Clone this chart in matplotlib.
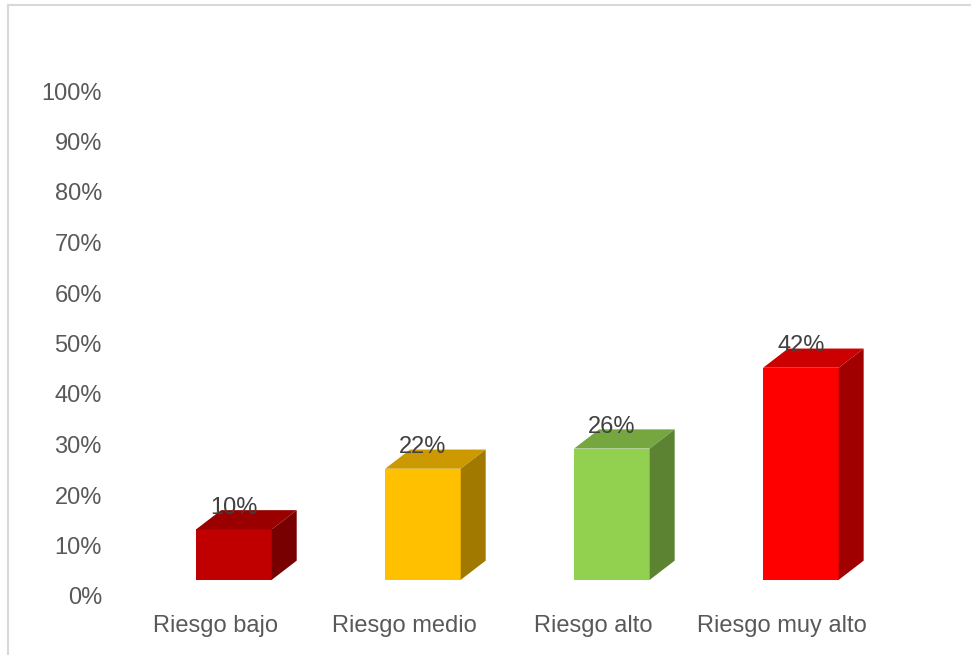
import numpy as np
import matplotlib.pyplot as plt
from matplotlib.patches import Polygon
from matplotlib.lines import Line2D
import matplotlib.colors as mcolors

plt.rcParams['font.family'] = ['Liberation Sans', 'DejaVu Sans']

# ==========================================================
# Data
# ==========================================================

categories = ["Riesgo bajo", "Riesgo medio", "Riesgo alto", "Riesgo muy alto"]
values = [10, 22, 26, 42]
labels = ["10%", "22%", "26%", "42%"]
bar_colors = ["#C00000", "#FFC000", "#92D050", "#FF0000"]
yticks = np.arange(0, 101, 10)

# ==========================================================
# Geometry of the fake 3D bars (data units)
# ==========================================================

floor = 3.2      # front face base sits a bit above the 0% line
front_off = -0.10
width = 0.40
dx = 0.132       # depth to the right
dy = 3.8         # depth upwards


def shade(color, f):
    r, g, b = mcolors.to_rgb(color)
    return (r * f, g * f, b * f)


fig = plt.figure(figsize=(9.71, 6.55), dpi=100)
ax = fig.add_axes([120 / 971, 59 / 655, 820 / 971, 505 / 655])

for i, (v, c) in enumerate(zip(values, bar_colors)):
    x0 = i + front_off
    x1 = x0 + width
    y0 = floor
    y1 = floor + v
    front = Polygon([(x0, y0), (x1, y0), (x1, y1), (x0, y1)],
                    closed=True, facecolor=c, edgecolor='none')
    top = Polygon([(x0, y1), (x1, y1), (x1 + dx, y1 + dy), (x0 + dx, y1 + dy)],
                  closed=True, facecolor=shade(c, 0.8), edgecolor='none')
    side = Polygon([(x1, y0), (x1 + dx, y0 + dy), (x1 + dx, y1 + dy), (x1, y1)],
                   closed=True, facecolor=shade(c, 0.63), edgecolor='none')
    for p in (front, top, side):
        ax.add_patch(p)
    ax.text(x0 + width / 2, y1 + 4.3, labels[i], ha='center', va='center',
            fontsize=17, color='#404040')

ax.set_xlim(-0.503, 3.836)
ax.set_ylim(0, 100)
ax.set_yticks(yticks)
ax.set_yticklabels([f"{t}%" for t in yticks])
ax.set_xticks(range(len(categories)))
ax.set_xticklabels(categories)
ax.tick_params(axis='both', length=0, labelsize=17, colors='#595959')
ax.tick_params(axis='y', pad=13)
ax.tick_params(axis='x', pad=14)
for s in ax.spines.values():
    s.set_visible(False)

# chart area border (top and left only visible)
fig.add_artist(Line2D([8 / 971, 8 / 971], [0, 1 - 5 / 655],
                      transform=fig.transFigure, color='#D9D9D9', lw=1.5))
fig.add_artist(Line2D([8 / 971, 1], [1 - 5 / 655, 1 - 5 / 655],
                      transform=fig.transFigure, color='#D9D9D9', lw=1.5))

plt.savefig("out.png", dpi=100)
